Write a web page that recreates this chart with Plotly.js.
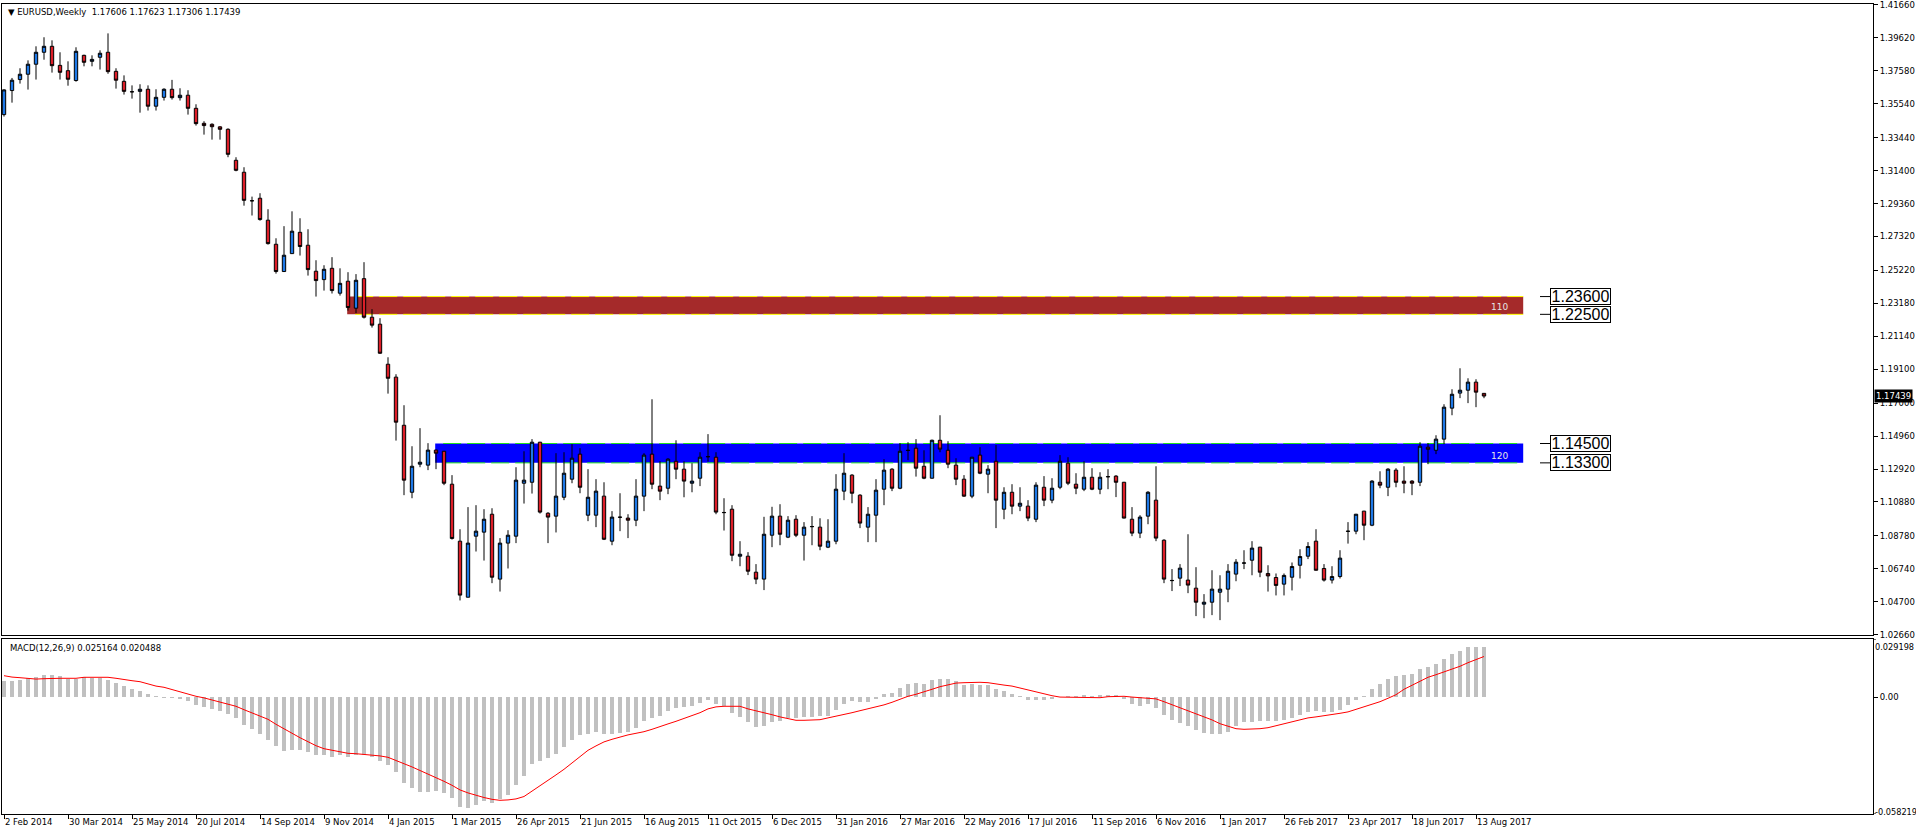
<!DOCTYPE html>
<html><head><meta charset="utf-8">
<script src="https://cdn.plot.ly/plotly-3.0.1.min.js"></script>
<style>html,body{margin:0;padding:0;background:#fff;}#chart{width:1916px;height:836px;}</style>
</head><body><div id="chart"></div>
<script>
const headerText = "\u25BC EURUSD,Weekly  1.17606 1.17623 1.17306 1.17439";
const macdLabel = "MACD(12,26,9) 0.025164 0.020488";

const open = [1.3487,1.3636,1.3704,1.3737,1.3799,1.3873,1.3910,1.3792,1.3759,1.3698,1.3854,1.3817,1.3842,1.3873,1.3755,1.3693,1.3629,1.3631,1.3644,1.3539,1.3594,1.3644,1.3592,1.3607,1.3526,1.3433,1.3427,1.3411,1.3396,1.3204,1.3130,1.2954,1.2969,1.2833,1.2684,1.2515,1.2626,1.2758,1.2678,1.2517,1.2465,1.2535,1.2381,1.2455,1.2288,1.2471,1.2232,1.2189,1.1941,1.1861,1.1563,1.1148,1.1322,1.1316,1.1409,1.1402,1.1198,1.0845,1.0498,1.0876,1.0901,1.1012,1.0610,1.0833,1.0876,1.1204,1.1210,1.1458,1.1018,1.1000,1.1117,1.1229,1.1384,1.1006,1.1006,1.1124,1.0845,1.0994,1.0988,1.0975,1.1124,1.1384,1.1186,1.1173,1.1340,1.1291,1.1204,1.1235,1.1369,1.1365,1.1023,1.1043,1.0752,1.0752,1.0653,1.0610,1.0882,1.1000,1.0870,1.0981,1.0882,1.0936,1.0932,1.0808,1.0845,1.1155,1.1254,1.1130,1.0932,1.1006,1.1167,1.1291,1.1173,1.1408,1.1421,1.1309,1.1235,1.1470,1.1408,1.1316,1.1229,1.1124,1.1378,1.1260,1.1340,1.1043,1.1148,1.1062,1.1062,1.0981,1.1179,1.1099,1.1179,1.1328,1.1198,1.1167,1.1241,1.1167,1.1245,1.1248,1.1210,1.0981,1.0895,1.1000,1.1099,1.0851,1.0602,1.0616,1.0604,1.0554,1.0455,1.0467,1.0529,1.0548,1.0641,1.0709,1.0727,1.0808,1.0645,1.0620,1.0579,1.0622,1.0696,1.0752,1.0845,1.0676,1.0604,1.0626,1.0907,1.0907,1.1031,1.0944,1.1210,1.1179,1.1285,1.1217,1.1217,1.1210,1.1427,1.1408,1.1477,1.1669,1.1762,1.1780,1.1830,1.17606];
const high = [1.3644,1.3714,1.3774,1.3823,1.3910,1.3966,1.3947,1.3873,1.3817,1.3904,1.3858,1.3854,1.3885,1.3990,1.3774,1.3730,1.3668,1.3675,1.3668,1.3644,1.3650,1.3702,1.3650,1.3638,1.3551,1.3446,1.3433,1.3415,1.3402,1.3223,1.3161,1.2979,1.3000,1.2901,1.2721,1.2796,1.2888,1.2845,1.2777,1.2585,1.2554,1.2604,1.2535,1.2511,1.2499,1.2573,1.2282,1.2226,1.1984,1.1879,1.1687,1.1433,1.1545,1.1452,1.1412,1.1404,1.1254,1.0919,1.1056,1.1068,1.1043,1.1049,1.0864,1.0913,1.1303,1.1402,1.1477,1.1460,1.1025,1.1390,1.1396,1.1446,1.1421,1.1291,1.1229,1.1210,1.1031,1.1142,1.1012,1.1229,1.1390,1.1724,1.1340,1.1359,1.1470,1.1340,1.1328,1.1396,1.1508,1.1396,1.1111,1.1068,1.0845,1.0777,1.0703,1.0996,1.1058,1.1074,1.1000,1.1006,1.0963,1.1000,1.0987,1.0981,1.1260,1.1390,1.1260,1.1136,1.1056,1.1229,1.1353,1.1297,1.1452,1.1458,1.1477,1.1408,1.1474,1.1625,1.1464,1.1359,1.1254,1.1367,1.1427,1.1316,1.1440,1.1179,1.1198,1.1179,1.1099,1.1210,1.1248,1.1235,1.1378,1.1365,1.1266,1.1340,1.1297,1.1272,1.1291,1.1254,1.1212,1.1056,1.1006,1.1155,1.1309,1.0857,1.0672,1.0703,1.0888,1.0684,1.0517,1.0665,1.0634,1.0703,1.0734,1.0789,1.0845,1.0810,1.0696,1.0645,1.0645,1.0713,1.0795,1.0839,1.0919,1.0703,1.0690,1.0789,1.0963,1.1014,1.1033,1.1223,1.1278,1.1297,1.1297,1.1309,1.1223,1.1458,1.1452,1.1501,1.1693,1.1786,1.1916,1.1854,1.1848,1.17623];
const low = [1.3475,1.3561,1.3679,1.3642,1.3704,1.3827,1.3747,1.3704,1.3666,1.3691,1.3786,1.3786,1.3766,1.3740,1.3648,1.3611,1.3586,1.3499,1.3512,1.3512,1.3574,1.3580,1.3574,1.3487,1.3419,1.3363,1.3332,1.3332,1.3223,1.3136,1.2923,1.2862,1.2830,1.2682,1.2502,1.2514,1.2625,1.2614,1.2490,1.2360,1.2397,1.2379,1.2366,1.2273,1.2257,1.2224,1.2168,1.2005,1.1759,1.1468,1.1130,1.1111,1.1303,1.1285,1.1291,1.1192,1.0855,1.0478,1.0497,1.0781,1.0725,1.0585,1.0533,1.0676,1.0833,1.1078,1.1140,1.1016,1.0833,1.0899,1.1099,1.1204,1.1142,1.0969,1.0932,1.0852,1.0820,1.0907,1.0864,1.0938,1.1031,1.1167,1.1099,1.1136,1.1229,1.1117,1.1148,1.1186,1.1338,1.1012,1.0911,1.0721,1.0690,1.0635,1.0579,1.0542,1.0808,1.0820,1.0864,1.0870,1.0725,1.0820,1.0789,1.0802,1.0826,1.1099,1.1080,1.0926,1.0839,1.0839,1.1068,1.1155,1.1167,1.1347,1.1245,1.1229,1.1233,1.1396,1.1297,1.1192,1.1120,1.1111,1.1260,1.1142,1.0926,1.0981,1.1012,1.1031,1.0969,1.0963,1.1062,1.1080,1.1167,1.1192,1.1136,1.1155,1.1161,1.1136,1.1167,1.1118,1.0986,1.0876,1.0864,1.0950,1.0845,1.0585,1.0536,1.0567,1.0523,1.0381,1.0368,1.0387,1.0356,1.0467,1.0597,1.0672,1.0634,1.0622,1.0533,1.0509,1.0509,1.0540,1.0614,1.0734,1.0663,1.0595,1.0583,1.0614,1.0830,1.0888,1.0851,1.0938,1.1173,1.1124,1.1179,1.1142,1.1130,1.1186,1.1322,1.1384,1.1446,1.1625,1.1731,1.1700,1.1675,1.17306];
const close = [1.3640,1.3700,1.3737,1.3799,1.3873,1.3910,1.3790,1.3749,1.3706,1.3879,1.3811,1.3829,1.3867,1.3753,1.3700,1.3631,1.3628,1.3644,1.3539,1.3594,1.3644,1.3592,1.3607,1.3526,1.3431,1.3419,1.3412,1.3396,1.3241,1.3142,1.2956,1.2953,1.2837,1.2688,1.2515,1.2616,1.2765,1.2670,1.2527,1.2459,1.2529,1.2397,1.2442,1.2292,1.2461,1.2232,1.2183,1.2009,1.1854,1.1582,1.1223,1.1309,1.1334,1.1409,1.1390,1.1204,1.0862,1.0511,1.0833,1.0907,1.0981,1.0622,1.0833,1.0882,1.1223,1.1223,1.1458,1.1025,1.0994,1.1124,1.1266,1.1359,1.1179,1.1117,1.1155,1.0857,1.0994,1.0993,1.0975,1.1124,1.1378,1.1198,1.1155,1.1353,1.1291,1.1217,1.1217,1.1365,1.1368,1.1025,1.1022,1.0758,1.0764,1.0659,1.0610,1.0888,1.1000,1.0888,1.0975,1.0882,1.0932,1.0935,1.0814,1.0845,1.1167,1.1266,1.1142,1.0957,1.1012,1.1161,1.1285,1.1173,1.1402,1.1407,1.1297,1.1235,1.1470,1.1415,1.1322,1.1229,1.1124,1.1365,1.1266,1.1291,1.1099,1.1148,1.1062,1.1080,1.0988,1.1192,1.1099,1.1173,1.1340,1.1204,1.1173,1.1241,1.1167,1.1241,1.1244,1.1210,1.0988,1.0895,1.0994,1.1148,1.0864,1.0610,1.0601,1.0678,1.0573,1.0467,1.0467,1.0548,1.0548,1.0659,1.0715,1.0710,1.0802,1.0653,1.0630,1.0571,1.0633,1.0688,1.0750,1.0812,1.0665,1.0604,1.0626,1.0740,1.0906,1.1012,1.0944,1.1217,1.1192,1.1291,1.1210,1.1204,1.1204,1.1433,1.1414,1.1477,1.1675,1.1755,1.1780,1.1830,1.1768,1.17439];

const macdMain = [0.0082,0.0082,0.0087,0.0096,0.0102,0.0111,0.0111,0.0106,0.0094,0.0094,0.0101,0.0099,0.0099,0.0087,0.0071,0.0056,0.0041,0.0031,0.0016,0.0006,-0.0001,-0.0004,-0.0009,-0.0019,-0.0036,-0.0047,-0.0056,-0.0066,-0.0081,-0.0104,-0.0136,-0.0156,-0.0181,-0.0211,-0.0244,-0.0266,-0.0261,-0.0264,-0.0271,-0.0286,-0.0286,-0.0296,-0.0289,-0.0299,-0.0289,-0.0289,-0.0299,-0.0316,-0.0335,-0.0372,-0.0425,-0.0450,-0.0470,-0.0470,-0.0465,-0.0475,-0.0500,-0.0545,-0.0550,-0.0535,-0.0515,-0.0525,
 -0.0505,-0.0485,-0.0435,-0.0390,-0.0331,-0.0317,-0.0301,-0.0281,-0.0246,-0.0211,-0.0187,-0.0181,-0.0171,-0.0181,-0.0181,-0.0176,-0.0171,-0.0151,-0.0116,-0.0101,-0.0092,-0.0066,-0.0051,-0.0046,-0.0041,-0.0026,-0.0011,-0.0031,-0.0041,-0.0076,-0.0096,-0.0121,-0.0146,-0.0141,-0.0121,-0.0116,-0.0101,-0.0101,-0.0096,-0.0096,-0.0091,-0.0091,-0.0061,-0.0031,-0.0016,-0.0021,-0.0021,-0.0006,0.0017,0.0024,0.0047,0.0067,0.0072,0.0067,0.0089,0.0094,0.0094,0.0082,0.0062,0.0067,0.0062,0.0062,
 0.0044,0.0032,0.0017,0.0007,-0.0014,-0.0011,-0.0014,-0.0009,0.0002,0.0006,0.0007,0.0012,0.0007,0.0012,0.0012,0.0012,-0.0006,-0.0031,-0.0041,-0.0031,-0.0051,-0.0086,-0.0111,-0.0126,-0.0141,-0.0162,-0.0176,-0.0181,-0.0181,-0.0171,-0.0141,-0.0121,-0.0121,-0.0116,-0.0116,-0.0116,-0.0111,-0.0101,-0.0086,-0.0071,-0.0066,-0.0071,-0.0071,-0.0061,-0.0036,-0.0011,0.0007,0.0044,0.0067,0.0092,0.0107,0.0112,0.0117,0.0142,0.0152,0.0167,0.0192,0.0217,0.0232,0.0252,0.0252,0.025164];
const macdSignal = [0.0109,0.0102,0.0099,0.0096,0.0092,0.0094,0.0096,0.0096,0.0096,0.0096,0.0101,0.0101,0.0101,0.0101,0.0096,0.0089,0.0084,0.0079,0.0069,0.0057,0.0051,0.0039,0.0029,0.0017,0.0006,-0.0002,-0.0012,-0.0022,-0.0032,-0.0044,-0.0061,-0.0076,-0.0092,-0.0109,-0.0134,-0.0157,-0.0181,-0.0201,-0.0221,-0.0241,-0.0256,-0.0264,-0.0274,-0.0279,-0.0281,-0.0284,-0.0289,-0.0292,-0.0299,-0.0314,-0.0331,-0.0347,-0.0365,-0.0382,-0.0399,-0.0419,-0.0439,-0.0462,-0.0477,-0.0490,-0.0500,-0.0509,
 -0.0514,-0.0512,-0.0507,-0.0495,-0.0469,-0.0442,-0.0415,-0.0387,-0.0359,-0.0327,-0.0296,-0.0264,-0.0242,-0.0222,-0.0209,-0.0197,-0.0187,-0.0179,-0.0171,-0.0159,-0.0147,-0.0132,-0.0119,-0.0104,-0.0091,-0.0076,-0.0057,-0.0047,-0.0044,-0.0044,-0.0044,-0.0057,-0.0066,-0.0074,-0.0086,-0.0097,-0.0106,-0.0114,-0.0114,-0.0114,-0.0111,-0.0102,-0.0094,-0.0084,-0.0076,-0.0066,-0.0057,-0.0047,-0.0037,-0.0024,-0.0007,0.0006,0.0016,0.0027,0.0041,0.0054,0.0064,0.0072,0.0074,0.0076,0.0076,0.0074,
 0.0067,0.0062,0.0057,0.0047,0.0037,0.0027,0.0017,0.0009,0.0002,0.0001,-0.0001,-0.0001,-0.0001,-0.0001,0.0004,0.0006,0.0006,0.0002,-0.0001,-0.0002,-0.0007,-0.0021,-0.0036,-0.0052,-0.0067,-0.0081,-0.0094,-0.0112,-0.0131,-0.0144,-0.0156,-0.0159,-0.0159,-0.0156,-0.0151,-0.0141,-0.0131,-0.0121,-0.0109,-0.0102,-0.0097,-0.0092,-0.0087,-0.0079,-0.0072,-0.0059,-0.0047,-0.0036,-0.0021,-0.0004,0.0014,0.0041,0.0062,0.0082,0.0101,0.0114,0.0127,0.0141,0.0156,0.0174,0.0189,0.020488];

const dateTickLabels = ["2 Feb 2014","30 Mar 2014","25 May 2014","20 Jul 2014","14 Sep 2014","9 Nov 2014","4 Jan 2015","1 Mar 2015","26 Apr 2015","21 Jun 2015","16 Aug 2015","11 Oct 2015","6 Dec 2015","31 Jan 2016","27 Mar 2016","22 May 2016","17 Jul 2016","11 Sep 2016","6 Nov 2016","1 Jan 2017","26 Feb 2017","23 Apr 2017","18 Jun 2017","13 Aug 2017"];
const barsPerDateTick = 8;
const priceTickValues = [1.4166,1.3962,1.3758,1.3554,1.3344,1.3140,1.2936,1.2732,1.2522,1.2318,1.2114,1.1910,1.1700,1.1496,1.1292,1.1088,1.0878,1.0674,1.0470,1.0266];
const macdMax = 0.029198, macdMin = -0.058219;
const macdMaxLabel = "0.029198", macdZeroLabel = "0.00", macdMinLabel = "-0.058219";

const resistanceZone = [1.225, 1.236];
const supportZone = [1.133, 1.145];
const resistanceZoneLabel = "110";
const supportZoneLabel = "120";
const lastClose = 1.17439;

// ---- build ----
const idx = close.map((_, i) => i);
const xRange = [-0.25, 233.625];
const zoneStartRes = 42.9, zoneStartSup = 53.9, zoneEnd = 189.9;
const labelX = 193.25, leaderX0 = 192;

const traces = [
  {type:'candlestick', x: idx, open: open, high: high, low: low, close: close,
   xaxis:'x', yaxis:'y', whiskerwidth:0, hoverinfo:'skip',
   increasing:{line:{color:'#000', width:1}, fillcolor:'#1E78E6'},
   decreasing:{line:{color:'#000', width:1}, fillcolor:'#DC1E28'}},
  {type:'bar', x: idx, y: macdMain, xaxis:'x2', yaxis:'y2', width:0.38,
   marker:{color:'#C0C0C0', line:{width:0}}, hoverinfo:'skip'},
  {type:'scatter', mode:'lines', x: idx, y: macdSignal, xaxis:'x2', yaxis:'y2',
   line:{color:'#FF0000', width:1}, hoverinfo:'skip'}
];

function zoneShapes(z, x0, fill, dashColor) {
  return [
    {type:'rect', xref:'x', yref:'y', x0:x0, x1:zoneEnd, y0:z[0], y1:z[1], fillcolor:fill, line:{width:0}, layer:'below'},
    {type:'line', xref:'x', yref:'y', x0:x0+1, x1:zoneEnd, y0:z[1], y1:z[1], line:{color:dashColor, width:1, dash:'18px,6px'}, layer:'below'},
    {type:'line', xref:'x', yref:'y', x0:x0+1, x1:zoneEnd, y0:z[0], y1:z[0], line:{color:dashColor, width:1, dash:'18px,6px'}, layer:'below'}
  ];
}
const shapes = [].concat(
  zoneShapes(resistanceZone, zoneStartRes, '#A52A2A', '#FFFF00'),
  zoneShapes(supportZone, zoneStartSup, '#0000FF', '#22DD22')
);
const levelVals = [resistanceZone[1], resistanceZone[0], supportZone[1], supportZone[0]];
levelVals.forEach(v => shapes.push({type:'line', xref:'x', yref:'y', x0:leaderX0, x1:labelX, y0:v, y1:v, line:{color:'#000', width:1}}));
[macdMax, macdMin].forEach(v => shapes.push({type:'line', xref:'paper', yref:'y2', x0:1, x1:1.0016, y0:v, y1:v, line:{color:'#000', width:1}}));

const smallFont = {family:'DejaVu Sans', size:8.5, color:'#000'};
const annotations = [
  {xref:'paper', yref:'paper', x:0.002, y:1, xanchor:'left', yanchor:'top', yshift:-1, text:headerText, showarrow:false, font:smallFont},
  {xref:'paper', yref:'y2 domain', x:0.003, y:1, xanchor:'left', yanchor:'top', yshift:-2, text:macdLabel, showarrow:false, font:smallFont},
  {xref:'paper', yref:'y2', x:1, y:macdMax, xanchor:'left', yanchor:'top', xshift:1, yshift:-2, borderpad:0, text:macdMaxLabel, showarrow:false, font:{family:'DejaVu Sans', size:8.2, color:'#000'}},
  {xref:'paper', yref:'y2', x:1, y:macdMin, xanchor:'left', yanchor:'bottom', xshift:1, yshift:-4, borderpad:0, text:macdMinLabel, showarrow:false, font:{family:'DejaVu Sans', size:8.2, color:'#000'}},
  {xref:'paper', yref:'y', x:1, y:lastClose, xanchor:'left', yanchor:'middle', xshift:1, text:'1.17439', showarrow:false, bgcolor:'#000', borderpad:1, font:{family:'DejaVu Sans', size:8.5, color:'#fff'}},
  {xref:'x', yref:'y', x:188.3, y:resistanceZone[0], xanchor:'right', yanchor:'bottom', text:resistanceZoneLabel, showarrow:false, font:{family:'DejaVu Sans', size:9, color:'#E4E4E4'}},
  {xref:'x', yref:'y', x:188.3, y:supportZone[0], xanchor:'right', yanchor:'bottom', text:supportZoneLabel, showarrow:false, font:{family:'DejaVu Sans', size:9, color:'#E4E4E4'}}
];
levelVals.forEach(v => annotations.push({xref:'x', yref:'y', x:labelX, y:v, xanchor:'left', yanchor:'middle', text:v.toFixed(5), showarrow:false,
  width:59, height:15, align:'center', valign:'middle', bgcolor:'#fff', bordercolor:'#000', borderwidth:1, borderpad:0,
  font:{family:'Liberation Sans', size:16, color:'#000'}}));

const dateTickVals = dateTickLabels.map((_, i) => i * barsPerDateTick);

const layout = {
  width:1916, height:836,
  margin:{l:2, r:43, t:4, b:22, pad:0},
  paper_bgcolor:'#fff', plot_bgcolor:'#fff',
  showlegend:false, boxgap:0.4, bargap:0,
  font:smallFont,
  xaxis:{domain:[0,1], anchor:'y', range:xRange, showticklabels:false, ticks:'', showgrid:false, zeroline:false,
         showline:true, mirror:true, linecolor:'#000', linewidth:1, rangeslider:{visible:false}, fixedrange:true},
  yaxis:{domain:[0.221,1], anchor:'x', side:'right', range:[1.0264,1.4172], tickmode:'array', tickvals:priceTickValues,
         ticktext:priceTickValues.map(v => v.toFixed(5)), ticks:'outside', ticklen:4, tickcolor:'#000', tickfont:smallFont,
         ticklabeloverflow:'allow',
         showgrid:false, zeroline:false, showline:true, mirror:true, linecolor:'#000', linewidth:1, fixedrange:true},
  xaxis2:{domain:[0,1], anchor:'y2', range:xRange, tickmode:'array', tickvals:dateTickVals, ticktext:dateTickLabels,
          ticks:'outside', ticklen:4, tickcolor:'#000', ticklabelposition:'outside right', tickfont:smallFont,
          showgrid:false, zeroline:false, showline:true, mirror:true, linecolor:'#000', linewidth:1, fixedrange:true},
  yaxis2:{domain:[0,0.216], anchor:'x2', side:'right', range:[macdMin - 0.00002, macdMax + 0.00002], tickmode:'array', tickvals:[0],
          ticktext:[macdZeroLabel], ticks:'outside', ticklen:4, tickcolor:'#000', tickfont:smallFont,
          showgrid:false, zeroline:false, showline:true, mirror:true, linecolor:'#000', linewidth:1, fixedrange:true},
  shapes:shapes, annotations:annotations
};

Plotly.newPlot('chart', traces, layout, {displayModeBar:false, staticPlot:true});
</script>
</body></html>
